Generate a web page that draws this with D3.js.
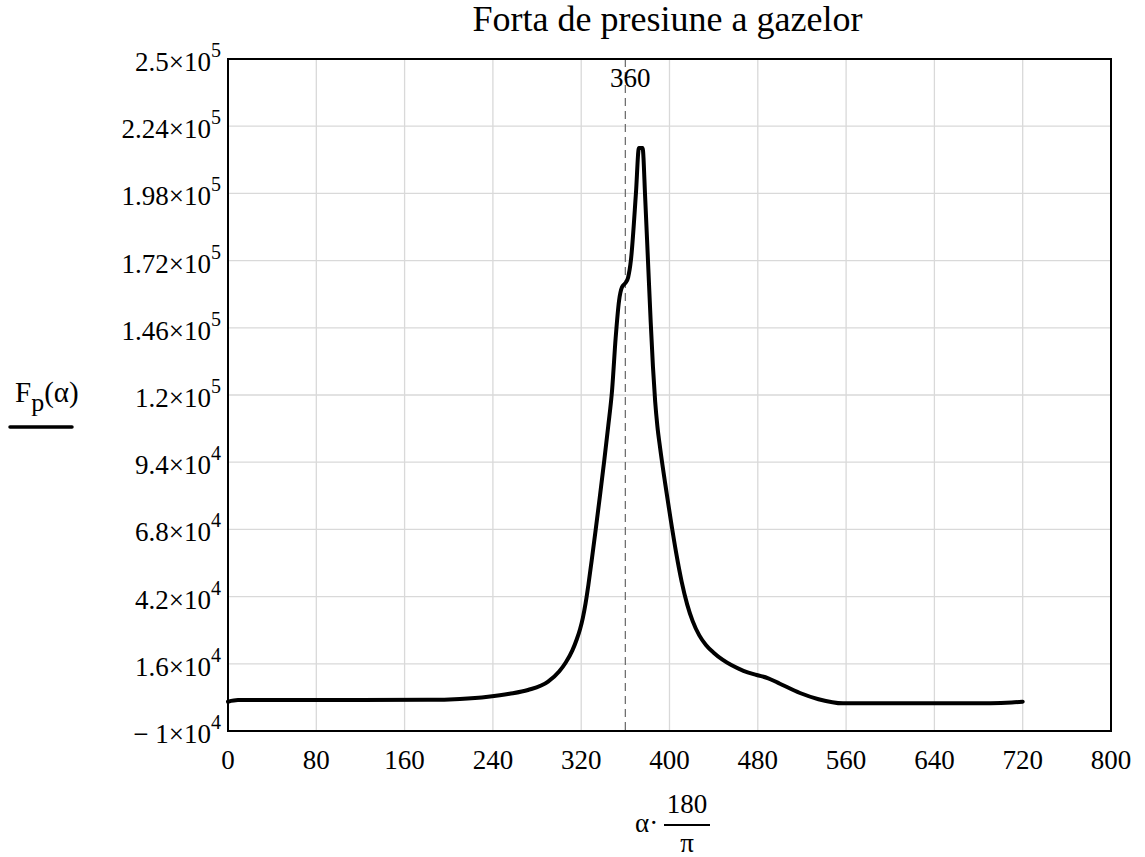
<!DOCTYPE html>
<html lang="ro">
<head>
<meta charset="UTF-8">
<title>Forta de presiune a gazelor</title>
<script src="https://d3js.org/d3.v7.min.js"></script>
<style>
  body { margin: 0; padding: 0; background: #fff; }
  svg text { font-family: "Liberation Serif", "Times New Roman", serif; fill: #000; }
  .grid line { stroke: #d9d9d9; stroke-width: 1.3; }
</style>
</head>
<body>
<div id="chart"></div>
<script>
// unghiul (grade) si forta de presiune
const unghi = [0, 9, 60, 120, 181, 210, 235.6, 255, 271.8, 290, 300, 306, 312, 316, 319, 321.5, 324,
  326.5, 329.5, 333, 337, 341, 344.5, 348, 351.2, 354.3, 357, 360, 362.5, 365, 369.6, 372.3,
  375.6, 378, 380.5, 383, 385, 387, 389, 391.5, 396, 401, 406, 411, 416, 421, 427, 433, 440,
  448, 456, 467, 479, 489.5, 500, 518.2, 535, 557.2, 600, 650, 691, 710, 720];
const forta = [1340, 1950, 2000, 2000, 2050, 2400, 3270, 4400, 5860, 9070, 13000, 16500, 21200,
  25500, 29500, 33800, 39500, 46500, 56000, 67500, 81000, 95000, 108000, 122000, 142000, 156500,
  161800, 163300, 165500, 172000, 198150, 215560,
  215560, 196000, 172000, 148000, 131000, 117500, 108000, 99500, 86000, 72000, 59000, 47800,
  39000, 32500, 27000, 23300, 20300, 17600, 15500, 13300, 11670, 10390, 8300, 4700, 2300, 720,
  700, 700, 720, 1000, 1340];

const xTicks = [0, 80, 160, 240, 320, 400, 480, 560, 640, 720, 800];
const yTicks = [250000, 224000, 198000, 172000, 146000, 120000, 94000, 68000, 42000, 16000, -10000];
const yMant = ["2.5", "2.24", "1.98", "1.72", "1.46", "1.2", "9.4", "6.8", "4.2", "1.6", "\u2212 1"];
const yExp = [5, 5, 5, 5, 5, 5, 4, 4, 4, 4, 4];
const marker = 360;

const W = 1145, H = 857;
const m = { left: 228, right: 1111, top: 59, bottom: 731 };

const svg = d3.select("#chart").append("svg")
  .attr("width", W).attr("height", H);

const x = d3.scaleLinear().domain([0, 800]).range([m.left, m.right]);
const y = d3.scaleLinear().domain([-10000, 250000]).range([m.bottom, m.top]);

// grila
const grid = svg.append("g").attr("class", "grid");
grid.selectAll(".gx").data(xTicks.slice(1, -1)).enter().append("line")
  .attr("x1", d => x(d)).attr("x2", d => x(d))
  .attr("y1", m.top).attr("y2", m.bottom);
grid.selectAll(".gy").data(yTicks.slice(1, -1)).enter().append("line")
  .attr("x1", m.left).attr("x2", m.right)
  .attr("y1", d => y(d)).attr("y2", d => y(d));

// linia punctata la 360
svg.append("line")
  .attr("x1", x(marker)).attr("x2", x(marker))
  .attr("y1", m.top).attr("y2", m.bottom)
  .attr("stroke", "#707070").attr("stroke-width", 1.3)
  .attr("stroke-dasharray", "8,5");
svg.append("text")
  .attr("x", x(marker) + 5).attr("y", m.top + 28)
  .attr("text-anchor", "middle").attr("font-size", 27)
  .text(marker);

// curba
const line = d3.line()
  .x((d, i) => x(unghi[i]))
  .y(d => y(d))
  .curve(d3.curveMonotoneX);
svg.append("path")
  .datum(forta)
  .attr("d", line)
  .attr("fill", "none")
  .attr("stroke", "#000")
  .attr("stroke-width", 4)
  .attr("stroke-linejoin", "round")
  .attr("stroke-linecap", "round");

// chenar
svg.append("rect")
  .attr("x", m.left).attr("y", m.top)
  .attr("width", m.right - m.left).attr("height", m.bottom - m.top)
  .attr("fill", "none").attr("stroke", "#000").attr("stroke-width", 2);

// etichete axa x
svg.selectAll(".xt").data(xTicks).enter().append("text")
  .attr("x", d => x(d)).attr("y", m.bottom + 38)
  .attr("text-anchor", "middle").attr("font-size", 27)
  .text(d => d);

// etichete axa y
const yl = svg.selectAll(".yt").data(yTicks).enter().append("text")
  .attr("x", m.left - 7).attr("y", d => y(d) + 12)
  .attr("text-anchor", "end").attr("font-size", 27);
yl.append("tspan").text((d, i) => yMant[i] + "\u00d710");
yl.append("tspan").attr("font-size", 20).attr("dy", -14).text((d, i) => yExp[i]);

// titlu
svg.append("text")
  .attr("x", (m.left + m.right) / 2 - 2).attr("y", 31)
  .attr("text-anchor", "middle").attr("font-size", 36)
  .text("Forta de presiune a gazelor");

// eticheta y: F_p(α) subliniat
const fy = svg.append("text").attr("x", 15).attr("y", 402).attr("font-size", 29);
fy.append("tspan").text("F");
fy.append("tspan").attr("font-size", 26).attr("dy", 9).text("p");
fy.append("tspan").attr("dy", -9).text("(\u03b1)");
svg.append("line")
  .attr("x1", 10).attr("x2", 72).attr("y1", 427).attr("y2", 427)
  .attr("stroke", "#000").attr("stroke-width", 3.5).attr("stroke-linecap", "round");

// eticheta x: α·180/π
svg.append("text").attr("x", 635).attr("y", 832).attr("font-size", 27).text("\u03b1\u00b7");
svg.append("text").attr("x", 687).attr("y", 813).attr("text-anchor", "middle").attr("font-size", 27).text("180");
svg.append("line").attr("x1", 664).attr("x2", 710).attr("y1", 825).attr("y2", 825)
  .attr("stroke", "#000").attr("stroke-width", 1.8);
svg.append("text").attr("x", 687).attr("y", 852).attr("text-anchor", "middle").attr("font-size", 27).text("\u03c0");
</script>
</body>
</html>
